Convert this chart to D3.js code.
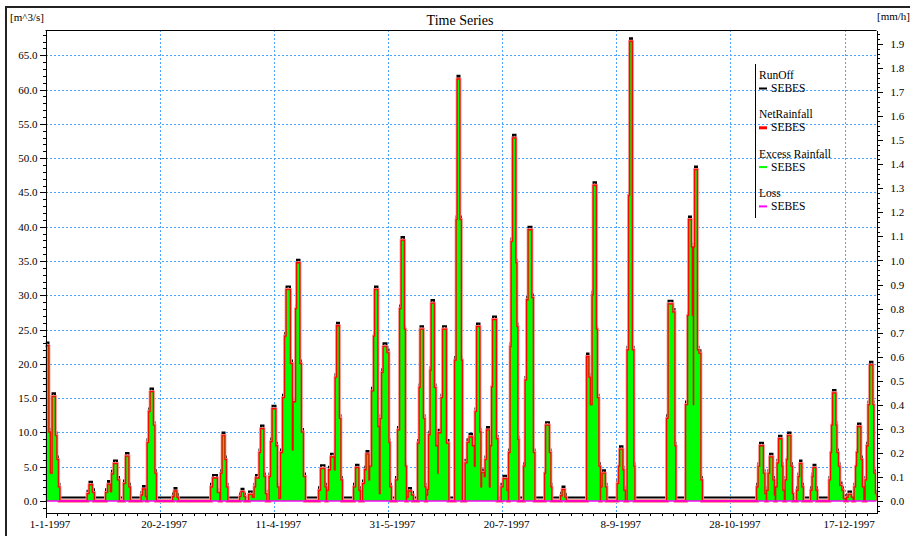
<!DOCTYPE html>
<html><head><meta charset="utf-8">
<script src="https://cdn.jsdelivr.net/npm/d3@7"></script>
<style>
html,body{margin:0;padding:0;background:#fff;}
svg{display:block;}
text{font-family:"Liberation Serif","Times New Roman",serif;fill:#000;}
</style></head>
<body>
<svg id="chart" width="910" height="536"></svg>
<script>
// ---- DATA (day of year 1997 where each step starts; values hold until next step) ----
const stepDays = [0,1.31,1.97,3.07,4.16,4.82,5.48,6.13, 18.40,19.27,20.37,21.24, 26.50,27.38,28.25,29.13,30.00,31.32,32.19, 34.38,35.26,36.36,37.01, 42.05,42.71,43.58,44.24, 44.68,45.34,45.99,47.09,47.74,48.40, 55.85,56.50,57.38,58.04, 72.49,73.37,75.12,76.22,76.87,77.53,78.41,79.06,79.72, 85.20,85.85,86.73,87.38, 89.14,90.45,91.55,92.20,93.74,94.39,95.49,96.15,96.80, 98.12,98.77,99.43,100.74,101.40,102.06,103.15,104.03,104.90,105.56,107.10,107.97,108.63,109.72,110.16,111.26,111.91,112.79,113.67, 119.80,120.67,122.21,122.86,123.30,124.18,125.06,126.37,127.03,127.68,128.56,129.22,129.87, 135.13,136.00,137.10,137.76, 139.07,139.95,140.60,141.48,142.14,143.01,143.89,144.33,145.42,146.08,146.74,147.39,148.05,149.37,150.24,150.68,151.34, 153.53,154.40,155.28,155.94,157.03,157.47,157.91, 158.34,159.00,160.10,160.97, 163.16,163.82,164.26,165.35,166.01,166.45, 166.89,167.54,167.98,168.64,169.08,170.17,170.83,171.70,172.14,173.46,174.11,175.43,176.52, 179.37,180.03,180.46,181.34,182.00,182.43, 183.97,184.84,185.72,186.81,187.69,188.35,189.01,190.10,190.54,191.20,192.07,192.73,193.39,194.26,194.92,195.58,196.01,197.33,197.99, 199.74,200.61,201.93,202.58, 203.02,203.68,204.12,204.77,205.87,206.31,206.75,207.18, 209.59,210.25,210.91,211.56,212.88,213.53,214.19, 218.79,219.23,220.54,221.20,221.64, 225.80,226.46,227.33,227.99, 237.19,237.85,238.50,239.60,240.04,241.13,241.57,242.23,242.88, 243.32,243.98,245.07,245.73, 250.55,251.20,251.64,252.74,253.18,253.83, 254.93,255.58,256.02,256.90,257.56,257.99, 272.23,272.89,274.64,275.52,275.95, 280.55,281.43,281.87,282.74,283.18,283.62,284.06,284.49,285.37,286.03,286.90,287.56, 311.65,312.31,312.97,314.28,314.94,315.59, 316.03,316.69,317.35,318.44,319.10,319.54, 319.98,320.63,321.29,322.38,322.82,323.48, 324.13,324.79,325.23,326.32,326.98,327.42, 329.17,329.83,330.49,331.14,331.80, 335.30,335.96,336.40,337.27,337.93, 343.41,344.07,344.50,344.94,346.04,346.47,347.13,347.79,348.66,349.32,350.20,351.07,351.73,352.83,353.70, 354.36,355.02,355.45,355.89,356.99,357.64,358.30, 359.18,359.83,360.49,361.15,362.24,362.68,363.34,364.00];

// RunOff, SEBES [m^3/s]
const runoff = [23.1,10.5,4.5,15.7,10,6.5,2.5,0.5, 1.5,2.8,1.7,0.5, 1.7,2.9,1.8,4.4,5.9,3.5,0.5, 3,7,2.5,0.5, 1.3,2.2,1.1,0.5, 9,13.5,16.4,11.5,4.5,0.5, 1.1,1.9,1,0.5, 2.5,3.8,1.7,0.5,4.5,10,6.5,2.5,0.5, 1.1,1.8,1.1,0.5, 1.4,1,2.5,3.8,7.5,11,4,1.5,0.5, 4,9.1,13.9,8.5,2.5,0.8,7.5,15.5,24.5,31.3,20.5,7.9,14.9,28.5,35.2,20.5,10.5,4,0.5, 2,5.2,2.5,0.5,2,5,6.9,5,18.5,26,12.5,3.5,0.5, 2.5,5.3,2,0.5, 3,5,7.3,3.5,5.5,16.5,24.5,31.3,11.3,1.5,12.5,19.2,23,22.1,9,2.5,0.5, 3.5,10.8,28.5,38.5,25.5,5.5,0.5, 1,1.9,1.3,0.5, 8.9,17,25.5,12.5,2.5,0.5, 1.3,2.1,10.1,19.5,29.3,17,8.5,4.5,10.4,15.5,25.5,8.9,0.5, 21,41.5,62,41.5,21,0.5, 6,9,9.8,8.5,5.5,13.5,25.9,10.5,2.5,4.6,4,6.5,10.8,2.5,8.5,17.1,26.9,9.5,0.5, 2.5,3.7,2,0.5, 7.5,23,38.3,53.4,35.2,25.9,9.4,0.5, 5.5,18.1,29.8,40,30.1,7.5,0.5, 4.5,11.5,7.5,2.5,0.5, 1.2,2.1,1,0.5, 21.5,18.5,14.5,30.5,46.5,25.5,15.5,5.5,0.5, 2.5,4.5,2.5,0.5, 3,5.5,8,5,2,0.5, 22.5,45,67.5,22.5,5.5,0.5, 12.5,29.2,28,8.5,0.5, 14.5,27.5,41.5,37.5,27.5,14.5,37.5,48.8,22.5,22,3.5,0.5, 2.5,5.5,8.5,4.5,1.5,0.5, 2,4.5,6.9,3.5,1.3,0.5, 2.5,6,9.5,5.5,2,0.5, 3.5,6.5,10,5.5,1.5,0.5, 2,4,5.9,2.5,0.5, 2,4,5.3,2,0.5, 3.5,7.5,11.5,16.2,11.5,7.5,5.5,2.7,2,0.8,0.5,1,1.4,1,0.5, 2.5,5.5,7.5,11.3,6.5,2.5,0.5, 3.5,8.5,14.5,20.3,14.5,4.5,1.5,0.5];

// NetRainfall, SEBES [mm/h]
const netRainfall = [0.644,0.285,0.114,0.433,0.271,0.171,0.057,0, 0.029,0.066,0.034,0, 0.034,0.068,0.037,0.111,0.154,0.086,0, 0.071,0.185,0.057,0, 0.023,0.048,0.017,0, 0.242,0.371,0.453,0.314,0.114,0, 0.017,0.040,0.014,0, 0.057,0.094,0.034,0,0.114,0.271,0.171,0.057,0, 0.017,0.037,0.017,0, 0.026,0.014,0.057,0.094,0.200,0.299,0.100,0.029,0, 0.100,0.245,0.382,0.228,0.057,0.009,0.200,0.428,0.684,0.878,0.570,0.211,0.411,0.798,0.989,0.570,0.285,0.100,0, 0.043,0.134,0.057,0,0.043,0.128,0.182,0.128,0.513,0.727,0.342,0.086,0, 0.057,0.137,0.043,0, 0.071,0.128,0.194,0.086,0.143,0.456,0.684,0.878,0.308,0.029,0.342,0.533,0.641,0.616,0.242,0.057,0, 0.086,0.294,0.798,1.083,0.713,0.143,0, 0.014,0.040,0.023,0, 0.239,0.470,0.713,0.342,0.057,0, 0.023,0.046,0.274,0.542,0.821,0.470,0.228,0.114,0.282,0.428,0.713,0.239,0, 0.584,1.169,1.753,1.169,0.584,0, 0.157,0.242,0.265,0.228,0.143,0.371,0.724,0.285,0.057,0.117,0.100,0.171,0.294,0.057,0.228,0.473,0.753,0.257,0, 0.057,0.091,0.043,0, 0.200,0.641,1.078,1.508,0.989,0.724,0.254,0, 0.143,0.502,0.835,1.126,0.844,0.200,0, 0.114,0.314,0.200,0.057,0, 0.020,0.046,0.014,0, 0.599,0.513,0.399,0.855,1.311,0.713,0.428,0.143,0, 0.057,0.114,0.057,0, 0.071,0.143,0.214,0.128,0.043,0, 0.627,1.269,1.910,0.627,0.143,0, 0.342,0.818,0.784,0.228,0, 0.399,0.770,1.169,1.055,0.770,0.399,1.055,1.377,0.627,0.613,0.086,0, 0.057,0.143,0.228,0.114,0.029,0, 0.043,0.114,0.182,0.086,0.023,0, 0.057,0.157,0.257,0.143,0.043,0, 0.086,0.171,0.271,0.143,0.029,0, 0.043,0.100,0.154,0.057,0, 0.043,0.100,0.137,0.043,0, 0.086,0.200,0.314,0.448,0.314,0.200,0.143,0.063,0.043,0.009,0,0.014,0.026,0.014,0, 0.057,0.143,0.200,0.308,0.171,0.057,0, 0.086,0.228,0.399,0.564,0.399,0.114,0.029,0];

// Excess Rainfall, SEBES [mm/h]
const excessRainfall = [0.644,0.285,0.114,0.433,0.271,0.171,0.057,0, 0.029,0.066,0.034,0, 0.034,0.068,0.037,0.111,0.154,0.086,0, 0.071,0.185,0.057,0, 0.023,0.048,0.017,0, 0.242,0.371,0.453,0.314,0.114,0, 0.017,0.040,0.014,0, 0.057,0.094,0.034,0,0.114,0.271,0.171,0.057,0, 0.017,0.037,0.017,0, 0.026,0.014,0.057,0.094,0.200,0.299,0.100,0.029,0, 0.100,0.245,0.382,0.228,0.057,0.009,0.200,0.428,0.684,0.878,0.570,0.211,0.411,0.798,0.989,0.570,0.285,0.100,0, 0.043,0.134,0.057,0,0.043,0.128,0.182,0.128,0.513,0.727,0.342,0.086,0, 0.057,0.137,0.043,0, 0.071,0.128,0.194,0.086,0.143,0.456,0.684,0.878,0.308,0.029,0.342,0.533,0.641,0.616,0.242,0.057,0, 0.086,0.294,0.798,1.083,0.713,0.143,0, 0.014,0.040,0.023,0, 0.239,0.470,0.713,0.342,0.057,0, 0.023,0.046,0.274,0.542,0.821,0.470,0.228,0.114,0.282,0.428,0.713,0.239,0, 0.584,1.169,1.753,1.169,0.584,0, 0.157,0.242,0.265,0.228,0.143,0.371,0.724,0.285,0.057,0.117,0.100,0.171,0.294,0.057,0.228,0.473,0.753,0.257,0, 0.057,0.091,0.043,0, 0.200,0.641,1.078,1.508,0.989,0.724,0.254,0, 0.143,0.502,0.835,1.126,0.844,0.200,0, 0.114,0.314,0.200,0.057,0, 0.020,0.046,0.014,0, 0.599,0.513,0.399,0.855,1.311,0.713,0.428,0.143,0, 0.057,0.114,0.057,0, 0.071,0.143,0.214,0.128,0.043,0, 0.627,1.269,1.910,0.627,0.143,0, 0.342,0.818,0.784,0.228,0, 0.399,0.770,1.169,1.055,0.770,0.399,1.055,1.377,0.627,0.613,0.086,0, 0.057,0.143,0.228,0.114,0.029,0, 0.043,0.114,0.182,0.086,0.023,0, 0.057,0.157,0.257,0.143,0.043,0, 0.086,0.171,0.271,0.143,0.029,0, 0.043,0.100,0.154,0.057,0, 0.043,0.100,0.137,0.043,0, 0.086,0.200,0.314,0.448,0.314,0.200,0.143,0.063,0.043,0.009,0,0.014,0.026,0.014,0, 0.057,0.143,0.200,0.308,0.171,0.057,0, 0.086,0.228,0.399,0.564,0.399,0.114,0.029,0];

// Loss, SEBES [mm/h]
const lossDays = [0, 364];
const loss = [0, 0];

// Axes / ticks
const leftTicks = [0,5,10,15,20,25,30,35,40,45,50,55,60,65];
const rightTicks = [0,0.1,0.2,0.3,0.4,0.5,0.6,0.7,0.8,0.9,1.0,1.1,1.2,1.3,1.4,1.5,1.6,1.7,1.8,1.9];
const dateTickDays = [0,50,100,150,200,250,300,350];
const dateTickLabels = ["1-1-1997","20-2-1997","11-4-1997","31-5-1997","20-7-1997","8-9-1997","28-10-1997","17-12-1997"];
const legendItems = [
  {name:"RunOff", sub:"SEBES", color:"#000000", w:2},
  {name:"NetRainfall", sub:"SEBES", color:"#ff0000", w:3},
  {name:"Excess Rainfall", sub:"SEBES", color:"#00ff00", w:2},
  {name:"Loss", sub:"SEBES", color:"#ff00ff", w:2}
];

// ---- CHART ----
const svg = d3.select("#chart");
const L = 45.5, R = 876.5, T = 30, B = 513;
const t0 = Date.UTC(1997,0,1);
const toDate = d => new Date(t0 + d*864e5);
const x = d3.scaleUtc().domain([toDate(0), toDate(364)]).range([L, R]);
const yL = d3.scaleLinear().domain([-1.75, 68.69]).range([B, T]);
const yR = d3.scaleLinear().domain([-0.0499, 1.9584]).range([B, T]);

// outer frame
svg.append("line").attr("x1",6).attr("x2",910).attr("y1",7).attr("y2",7).attr("stroke","#222").attr("stroke-width",2);
svg.append("line").attr("x1",6).attr("x2",6).attr("y1",6).attr("y2",536).attr("stroke","#222").attr("stroke-width",2);

// grid
const grid = svg.append("g").attr("stroke","#4aa3ff").attr("stroke-width",1).attr("stroke-dasharray","2,2").attr("shape-rendering","crispEdges");
leftTicks.filter(v=>v>0).forEach(v=>{
  grid.append("line").attr("x1",L).attr("x2",R).attr("y1",Math.round(yL(v))+0.5).attr("y2",Math.round(yL(v))+0.5);
});
dateTickDays.filter(v=>v>0).forEach(v=>{
  grid.append("line").attr("x1",Math.round(x(toDate(v)))+0.5).attr("x2",Math.round(x(toDate(v)))+0.5).attr("y1",T).attr("y2",B);
});

// data
svg.append("clipPath").attr("id","clip").append("rect").attr("x",L).attr("y",T).attr("width",R-L).attr("height",B-T);
const g = svg.append("g").attr("clip-path","url(#clip)");
const n = Math.min(stepDays.length, runoff.length, netRainfall.length, excessRainfall.length);
const idx = d3.range(n);
const lineL = arr => d3.line().curve(d3.curveStepAfter).x(i=>x(toDate(stepDays[i]))).y(i=>yL(arr[i]));
const lineR = arr => d3.line().curve(d3.curveStepAfter).x(i=>x(toDate(stepDays[i]))).y(i=>yR(arr[i]));
const areaR = arr => d3.area().curve(d3.curveStepAfter).x(i=>x(toDate(stepDays[i]))).y0(yR(0)).y1(i=>yR(arr[i]));

g.append("path").attr("d", lineL(runoff)(idx)).attr("fill","none").attr("stroke","#000").attr("stroke-width",2);
g.append("path").attr("d", lineR(netRainfall)(idx)).attr("fill","none").attr("stroke","#ff9c9c").attr("stroke-width",3.8);
g.append("path").attr("d", lineR(netRainfall)(idx)).attr("fill","none").attr("stroke","#ff0000").attr("stroke-width",2.2);
g.append("path").attr("d", areaR(excessRainfall)(idx)).attr("fill","#00ff00").attr("stroke","none");
g.append("path").attr("d", lineR(netRainfall)(idx)).attr("fill","none").attr("stroke","#e81a00").attr("stroke-width",0.8).attr("stroke-opacity",0.85);
g.append("path").attr("d", d3.line().x((d,i)=>x(toDate(lossDays[i]))).y(d=>yR(d))(loss)).attr("fill","none").attr("stroke","#ff00ff").attr("stroke-width",1.6);

// plot top border
svg.append("line").attr("x1",L).attr("x2",R).attr("y1",T+0.5).attr("y2",T+0.5).attr("stroke","#000").attr("stroke-width",1);

// left axis
svg.append("g").attr("transform",`translate(${L},0)`)
  .call(d3.axisLeft(yL).tickValues(leftTicks).tickFormat(d3.format(".1f")).tickSize(6).tickPadding(2).tickSizeOuter(0));
svg.append("g").attr("transform",`translate(${L},0)`)
  .call(d3.axisLeft(yL).tickValues(d3.range(-1,69,1)).tickFormat("").tickSize(3).tickSizeOuter(0));
// right axis
svg.append("g").attr("transform",`translate(${R},0)`)
  .call(d3.axisRight(yR).tickValues(rightTicks).tickFormat(d3.format(".1f")).tickSize(6).tickPadding(8).tickSizeOuter(0));
svg.append("g").attr("transform",`translate(${R},0)`)
  .call(d3.axisRight(yR).tickValues(d3.range(-2,98,1).map(k=>k*0.02)).tickFormat("").tickSize(3).tickSizeOuter(0));
// bottom axis
svg.append("g").attr("transform",`translate(0,${B})`)
  .call(d3.axisBottom(x).tickValues(dateTickDays.map(toDate)).tickFormat((d,i)=>dateTickLabels[i]).tickSize(5).tickPadding(2).tickSizeOuter(0))
  .selectAll("text").attr("dx",4);
svg.append("g").attr("transform",`translate(0,${B})`)
  .call(d3.axisBottom(x).tickValues(d3.range(0,365,5).map(toDate)).tickFormat("").tickSize(3).tickSizeOuter(0));

svg.selectAll(".tick text").style("font-size","11px").style("font-family",'"Liberation Serif","Times New Roman",serif');
svg.selectAll(".domain, .tick line").attr("stroke","#000").attr("shape-rendering","crispEdges");

// titles
svg.append("text").attr("x",460).attr("y",25).attr("text-anchor","middle").style("font-size","14px").text("Time Series");
svg.append("text").attr("x",10).attr("y",21).style("font-size","11px").text("[m^3/s]");
svg.append("text").attr("x",877).attr("y",20).style("font-size","11px").text("[mm/h]");

// legend
const lg = svg.append("g");
lg.append("line").attr("x1",755.5).attr("x2",755.5).attr("y1",64).attr("y2",218).attr("stroke","#000").attr("stroke-width",1);
legendItems.forEach((it,k)=>{
  const y0 = 79 + k*39.3;
  lg.append("text").attr("x",759).attr("y",y0).style("font-size","11.5px").text(it.name);
  lg.append("line").attr("x1",759).attr("x2",767).attr("y1",y0+9.5).attr("y2",y0+9.5).attr("stroke",it.color).attr("stroke-width",it.w);
  lg.append("text").attr("x",771).attr("y",y0+13).style("font-size","11.5px").text(it.sub);
});
</script>
</body></html>
